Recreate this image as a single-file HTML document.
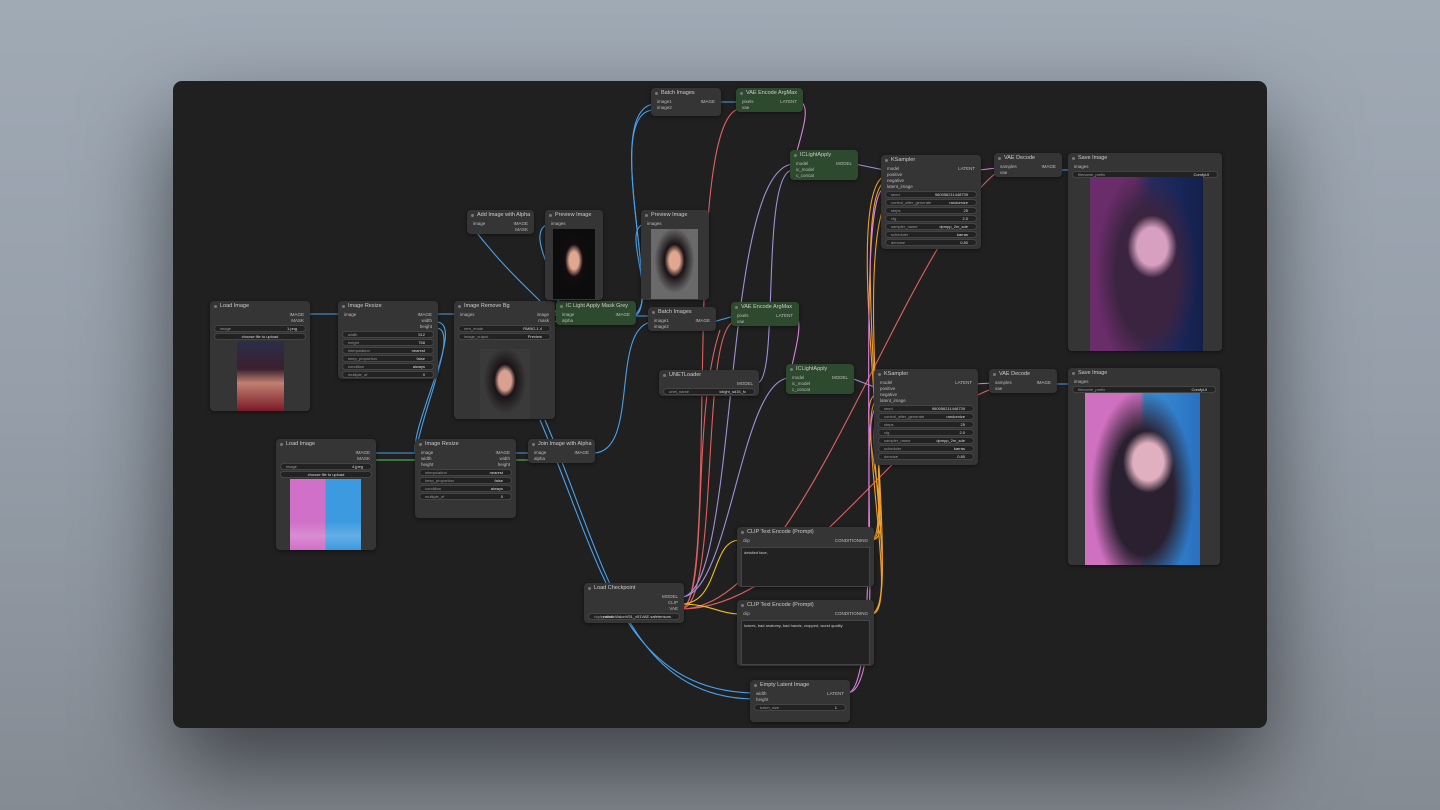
<!DOCTYPE html>
<html><head><meta charset="utf-8"><style>
*{margin:0;padding:0;box-sizing:border-box}
body{width:1440px;height:810px;overflow:hidden;background:linear-gradient(180deg,#a0aab5 0%,#959ea9 50%,#858b93 100%);font-family:"Liberation Sans",sans-serif;position:relative}
#cv{position:absolute;left:173px;top:81px;width:1094px;height:647px;background:#202020;border-radius:9px;box-shadow:0 40px 90px rgba(0,0,0,.55);overflow:hidden}
svg{position:absolute;left:0;top:0}
.n{position:absolute;background:#353535;border-radius:4px;box-shadow:0 1px 4px rgba(0,0,0,.5);color:#bbb;font-size:4.5px;line-height:6px}
.g{background:#2e4a2e}
.t{height:11px;line-height:11px;padding-left:10px;font-size:5.5px;color:#ccc;position:relative}
.t:before{content:"";position:absolute;left:4px;top:4px;width:3px;height:3px;border-radius:50%;background:#777}
.r{position:relative;height:6px;padding:0 6px}
.r .o{position:absolute;right:6px;top:0}
.w{height:7px;margin:1px 4px;border-radius:4px;background:#222;border:1px solid #444;font-size:4px;line-height:5px;padding:0 5px;color:#999;position:relative}
.w b{position:absolute;right:8px;font-weight:normal;color:#ddd}
.im{position:absolute}
.txt{background:#222;border:1px solid #444;margin:3px 4px;color:#ccc;font-size:4px;padding:2px}
</style></head><body>
<div id="cv">
<svg width="1094" height="647" viewBox="173 81 1094 647" fill="none" stroke-width="1.1">
<g stroke="#4aa0e8">
<path d="M308,314 L341,314"/><path d="M436,314 L457,314"/><path d="M553,314 L559,316"/>
<path d="M470,224 C505,270 530,290 553,314"/>
<path d="M553,314 C575,300 520,235 548,224"/>
<path d="M633,316 C665,316 600,110 654,104"/><path d="M633,316 C665,316 600,110 654,110"/>
<path d="M633,316 L651,316"/><path d="M633,316 C660,300 620,230 644,224"/>
<path d="M593,453 C640,453 610,330 651,322"/>
<path d="M436,322 C470,322 400,440 418,460"/><path d="M436,328 C465,328 405,445 418,466"/>
<path d="M373,453 L418,453"/><path d="M513,453 L531,453"/>
<path d="M540,420 C600,560 620,690 753,693"/><path d="M545,420 C605,560 625,697 753,699"/>
<path d="M718,102 L739,102"/><path d="M713,322 L734,316"/>
<path d="M1059,170 L1071,170"/><path d="M1054,384 L1071,384"/>
</g>
<g stroke="#5cc860"><path d="M373,460 L531,460"/><path d="M553,321 L559,322"/></g>
<g stroke="#e06060">
<path d="M681,609 C720,609 680,120 739,109"/><path d="M681,609 C720,609 700,330 734,322"/>
<path d="M681,609 C800,609 900,250 997,172"/><path d="M681,609 C800,609 900,420 992,389"/>
<path d="M681,609 C710,600 690,420 720,330"/>
</g>
<g stroke="#f0c020"><path d="M681,604 C720,604 710,540 740,540"/><path d="M681,604 C710,604 720,614 740,614"/></g>
<g stroke="#f0a030">
<path d="M872,540 C900,540 840,200 884,176"/><path d="M872,614 C905,614 845,210 884,182"/>
<path d="M872,540 C900,540 850,400 877,394"/><path d="M872,614 C900,614 855,410 877,400"/>
<path d="M872,540 C895,530 850,230 893,190"/><path d="M872,614 C900,600 860,420 880,410"/>
</g>
<g stroke="#a090d8">
<path d="M681,597 C740,597 720,170 793,164"/><path d="M681,597 C730,597 740,380 789,378"/>
<path d="M757,383 C780,383 760,170 793,170"/><path d="M855,164 L884,170"/><path d="M851,378 L877,388"/>
</g>
<g stroke="#e080e0">
<path d="M847,693 C890,693 850,200 884,188"/><path d="M847,693 C890,693 855,420 877,406"/>
<path d="M801,102 C815,110 790,160 793,176"/><path d="M797,316 C805,330 785,380 789,390"/>
<path d="M979,170 L997,168"/><path d="M975,384 L992,383"/>
</g>
</svg>

<!-- Load Image 1 -->
<div class="n" style="left:37px;top:220px;width:100px;height:110px"><div class="t">Load Image</div>
<div class="r"><span class="o">IMAGE</span></div><div class="r"><span class="o">MASK</span></div>
<div class="w">image<b>1.png</b></div><div class="w" style="text-align:center;color:#ddd">choose file to upload</div>
<div class="im" style="left:27px;top:40px;width:47px;height:70px;background:linear-gradient(180deg,#2a2e48,#3a2030 40%,#c08070 60%,#7a1a28)"></div></div>
<!-- Image Resize -->
<div class="n" style="left:165px;top:220px;width:100px;height:78px"><div class="t">Image Resize</div>
<div class="r">image<span class="o">IMAGE</span></div><div class="r"><span class="o">width</span></div><div class="r"><span class="o">height</span></div>
<div class="w">width<b>512</b></div><div class="w">height<b>768</b></div><div class="w">interpolation<b>nearest</b></div><div class="w">keep_proportion<b>false</b></div><div class="w">condition<b>always</b></div><div class="w">multiple_of<b>0</b></div></div>
<!-- Remove Bg -->
<div class="n" style="left:281px;top:220px;width:101px;height:118px"><div class="t">Image Remove Bg</div>
<div class="r">images<span class="o">image</span></div><div class="r"><span class="o">mask</span></div>
<div class="w">rem_mode<b>RMBG-1.4</b></div><div class="w">image_output<b>Preview</b></div>
<div class="im" style="left:26px;top:48px;width:50px;height:70px;background:radial-gradient(ellipse at 50% 45%,#d8a090 0 18%,#1a1416 30%,#3a3a3a 60%),linear-gradient(#333,#333)"></div></div>
<!-- IC Light Apply Mask Grey -->
<div class="n g" style="left:383px;top:220px;width:80px;height:24px"><div class="t">IC Light Apply Mask Grey</div>
<div class="r">image<span class="o">IMAGE</span></div><div class="r">alpha</div></div>
<!-- Batch Images top -->
<div class="n" style="left:478px;top:7px;width:70px;height:28px"><div class="t">Batch Images</div>
<div class="r">image1<span class="o">IMAGE</span></div><div class="r">image2</div></div>
<!-- VAE Encode top -->
<div class="n g" style="left:563px;top:7px;width:67px;height:24px"><div class="t">VAE Encode ArgMax</div>
<div class="r">pixels<span class="o">LATENT</span></div><div class="r">vae</div></div>
<!-- Add Image with Alpha -->
<div class="n" style="left:294px;top:129px;width:67px;height:24px"><div class="t">Add Image with Alpha</div>
<div class="r">image<span class="o">IMAGE</span></div><div class="r"><span class="o">MASK</span></div></div>
<!-- Preview Image 1 -->
<div class="n" style="left:372px;top:129px;width:58px;height:90px"><div class="t">Preview Image</div><div class="r">images</div>
<div class="im" style="left:8px;top:19px;width:42px;height:70px;background:radial-gradient(ellipse at 50% 45%,#e0a890 0 16%,#140c10 30%,#0c0c0c 55%),#111"></div></div>
<!-- Preview Image 2 -->
<div class="n" style="left:468px;top:129px;width:68px;height:90px"><div class="t">Preview Image</div><div class="r">images</div>
<div class="im" style="left:10px;top:19px;width:47px;height:70px;background:radial-gradient(ellipse at 50% 45%,#e0a890 0 16%,#1a1214 30%,#6a6a6a 60%),#666"></div></div>
<!-- Batch mid -->
<div class="n" style="left:475px;top:226px;width:68px;height:24px"><div class="t">Batch Images</div>
<div class="r">image1<span class="o">IMAGE</span></div><div class="r">image2</div></div>
<!-- VAE Encode mid -->
<div class="n g" style="left:558px;top:221px;width:68px;height:24px"><div class="t">VAE Encode ArgMax</div>
<div class="r">pixels<span class="o">LATENT</span></div><div class="r">vae</div></div>
<!-- ICLight top -->
<div class="n g" style="left:617px;top:69px;width:68px;height:30px"><div class="t">ICLightApply</div>
<div class="r">model<span class="o">MODEL</span></div><div class="r">ic_model</div><div class="r">c_concat</div></div>
<!-- ICLight mid -->
<div class="n g" style="left:613px;top:283px;width:68px;height:30px"><div class="t">ICLightApply</div>
<div class="r">model<span class="o">MODEL</span></div><div class="r">ic_model</div><div class="r">c_concat</div></div>
<!-- KSampler top -->
<div class="n" style="left:708px;top:74px;width:100px;height:94px"><div class="t">KSampler</div>
<div class="r">model<span class="o">LATENT</span></div><div class="r">positive</div><div class="r">negative</div><div class="r">latent_image</div>
<div class="w">seed<b>960056211448739</b></div><div class="w">control_after_generate<b>randomize</b></div><div class="w">steps<b>25</b></div><div class="w">cfg<b>2.0</b></div><div class="w">sampler_name<b>dpmpp_2m_sde</b></div><div class="w">scheduler<b>karras</b></div><div class="w">denoise<b>0.80</b></div></div>
<!-- KSampler bottom -->
<div class="n" style="left:701px;top:288px;width:104px;height:96px"><div class="t">KSampler</div>
<div class="r">model<span class="o">LATENT</span></div><div class="r">positive</div><div class="r">negative</div><div class="r">latent_image</div>
<div class="w">seed<b>960056211448739</b></div><div class="w">control_after_generate<b>randomize</b></div><div class="w">steps<b>25</b></div><div class="w">cfg<b>2.0</b></div><div class="w">sampler_name<b>dpmpp_2m_sde</b></div><div class="w">scheduler<b>karras</b></div><div class="w">denoise<b>0.80</b></div></div>
<!-- VAE Decode -->
<div class="n" style="left:821px;top:72px;width:68px;height:24px"><div class="t">VAE Decode</div>
<div class="r">samples<span class="o">IMAGE</span></div><div class="r">vae</div></div>
<div class="n" style="left:816px;top:288px;width:68px;height:24px"><div class="t">VAE Decode</div>
<div class="r">samples<span class="o">IMAGE</span></div><div class="r">vae</div></div>
<!-- Save Image top -->
<div class="n" style="left:895px;top:72px;width:154px;height:198px"><div class="t">Save Image</div><div class="r">images</div>
<div class="w">filename_prefix<b>ComfyUI</b></div>
<div class="im" style="left:22px;top:24px;width:113px;height:174px;background:radial-gradient(ellipse 22% 18% at 55% 40%,#d8a0c0 0 60%,transparent 100%),radial-gradient(ellipse 45% 60% at 50% 55%,#3a2440 0 60%,transparent 100%),linear-gradient(90deg,#6a2c6a 0 40%,#1e2c6a 55%,#14204a)"></div></div>
<!-- Save Image bottom -->
<div class="n" style="left:895px;top:287px;width:152px;height:197px"><div class="t">Save Image</div><div class="r">images</div>
<div class="w">filename_prefix<b>ComfyUI</b></div>
<div class="im" style="left:17px;top:25px;width:115px;height:172px;background:radial-gradient(ellipse 22% 18% at 55% 40%,#e0b0c0 0 60%,transparent 100%),radial-gradient(ellipse 45% 60% at 50% 58%,#2a2030 0 60%,transparent 100%),linear-gradient(90deg,#d070c0 0 48%,#3a90d8 52%,#2a70c0)"></div></div>
<!-- UNET -->
<div class="n" style="left:486px;top:289px;width:100px;height:26px"><div class="t">UNETLoader</div>
<div class="r"><span class="o">MODEL</span></div><div class="w">unet_name<b>iclight_sd15_fc</b></div></div>
<!-- Load Image 2 -->
<div class="n" style="left:103px;top:358px;width:100px;height:111px"><div class="t">Load Image</div>
<div class="r"><span class="o">IMAGE</span></div><div class="r"><span class="o">MASK</span></div>
<div class="w">image<b>4.jpeg</b></div><div class="w" style="text-align:center;color:#ddd">choose file to upload</div>
<div class="im" style="left:14px;top:40px;width:71px;height:71px;background:linear-gradient(180deg,transparent 60%,rgba(255,255,255,.2) 80%,transparent),linear-gradient(90deg,#d070c8 0 50%,#3c9ae0 50%)"></div></div>
<!-- Image Resize 2 -->
<div class="n" style="left:242px;top:358px;width:101px;height:79px"><div class="t">Image Resize</div>
<div class="r">image<span class="o">IMAGE</span></div><div class="r">width<span class="o">width</span></div><div class="r">height<span class="o">height</span></div>
<div class="w">interpolation<b>nearest</b></div><div class="w">keep_proportion<b>false</b></div><div class="w">condition<b>always</b></div><div class="w">multiple_of<b>0</b></div></div>
<!-- Join -->
<div class="n" style="left:355px;top:358px;width:67px;height:24px"><div class="t">Join Image with Alpha</div>
<div class="r">image<span class="o">IMAGE</span></div><div class="r">alpha</div></div>
<!-- Load Checkpoint -->
<div class="n" style="left:411px;top:502px;width:100px;height:40px"><div class="t">Load Checkpoint</div>
<div class="r"><span class="o">MODEL</span></div><div class="r"><span class="o">CLIP</span></div><div class="r"><span class="o">VAE</span></div>
<div class="w">ckpt_name<b>realisticVisionV51_v51VAE.safetensors</b></div></div>
<!-- CLIP Text -->
<div class="n" style="left:564px;top:446px;width:137px;height:60px"><div class="t">CLIP Text Encode (Prompt)</div>
<div class="r">clip<span class="o">CONDITIONING</span></div><div class="txt" style="height:40px">detailed face,</div></div>
<div class="n" style="left:564px;top:519px;width:137px;height:66px"><div class="t">CLIP Text Encode (Prompt)</div>
<div class="r">clip<span class="o">CONDITIONING</span></div><div class="txt" style="height:45px">lowres, bad anatomy, bad hands, cropped, worst quality</div></div>
<!-- Empty Latent -->
<div class="n" style="left:577px;top:599px;width:100px;height:42px"><div class="t">Empty Latent Image</div>
<div class="r">width<span class="o">LATENT</span></div><div class="r">height</div><div class="w">batch_size<b>1</b></div></div>
</div>
</body></html>
